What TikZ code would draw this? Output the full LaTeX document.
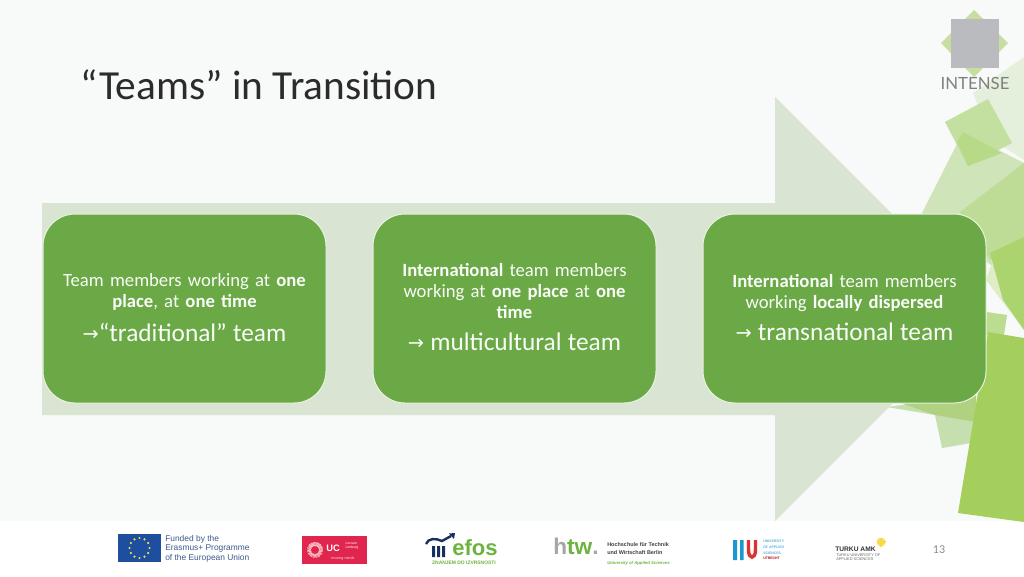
\documentclass[tikz,border=0pt]{standalone}
\usepackage{fontspec}
\setmainfont{Carlito}
\newfontfamily\arrowfont{DejaVu Sans}
\newfontfamily\logofont{Liberation Sans}
\newfontfamily\introfont{Lato}
\definecolor{bgc}{HTML}{F8F9F9}
\definecolor{arrowc}{HTML}{D9E4D2}
\definecolor{boxc}{HTML}{6AA945}
\definecolor{titlec}{HTML}{2B2B2B}
\definecolor{efb}{HTML}{16325C}
\definecolor{efg}{HTML}{6DB33F}
\tikzset{x=0.75pt,y=-0.75pt,
  card/.style={draw=white!85!boxc,line width=0.75pt,fill=boxc,rounded corners=24pt,minimum width=212.25pt,minimum height=141.75pt,inner sep=0pt,text=white!96!boxc,align=center,text width=195pt,font=\fontsize{14}{15.75}\selectfont},
  logotxt/.style={inner sep=0pt,font=\logofont,align=left,anchor=west},
}
\newcommand{\bigline}[2]{\\[8.5pt]{\fontsize{19}{20}\selectfont\raisebox{0.8pt}{\arrowfont\fontsize{14.5}{20}\selectfont →}#2\rule[-#1]{0pt}{1pt}}}
\begin{document}
\begin{tikzpicture}
\useasboundingbox (0,0) rectangle (1024,576);
\fill[bgc] (0,0) rectangle (1024,521);
\fill[white] (0,521) rectangle (1024,576);
% decorative shapes
\fill[color={rgb,255:red,228;green,239;blue,220}] (1024,57) -- (973,93) -- (993,140) -- (1024,160) -- cycle;
\fill[color={rgb,255:red,207;green,228;blue,184}] (963,132) -- (922,213) -- (1024,290) -- (1024,163) -- cycle;
\fill[color={rgb,255:red,222;green,236;blue,200}] (986,280) -- (1024,330) -- (1024,270) -- (1000,240) -- cycle;
\fill[color={rgb,255:red,191;green,220;blue,150}] (1024,163) -- (960,212) -- (990,260) -- (1024,237) -- cycle;
\fill[color={rgb,255:red,172;green,212;blue,110}] (1024,237) -- (990,253) -- (1003,300) -- (1024,330) -- cycle;
\fill[color={rgb,255:red,195;green,224;blue,160}] (988,99) -- (1012,143) -- (968,166) -- (945,122) -- cycle;
\fill[color={rgb,255:red,182;green,218;blue,135}] (963,132) -- (1002,153) -- (968,166) -- (957,142) -- cycle;
\fill[color={rgb,255:red,197;green,223;blue,174}] (887,407) -- (935,415) -- (942,448) -- (971,443) -- (976,395) -- cycle;
\fill[color={rgb,255:red,188;green,220;blue,146}] (987,312) -- (1007,315) -- (1004,335) -- (985,335) -- cycle;
% arrow
\fill[arrowc] (42,203) -- (775,203) -- (775,97) -- (987,309) -- (775,521) -- (775,415) -- (42,415) -- cycle;
\fill[color={rgb,255:red,176;green,209;blue,128}] (935,415) -- (976,422) -- (976,395) -- (895,401) -- cycle;
\fill[color={rgb,255:red,165;green,207;blue,92}] (988,332) -- (1024,338) -- (1024,522) -- (958,513) -- cycle;
% logo
\fill[color={rgb,255:red,200;green,222;blue,160}] (974,10) -- (1008,43) -- (974,77) -- (941,43) -- cycle;
\fill[color={rgb,255:red,186;green,187;blue,190}] (951,19) rectangle (999,68);
\node (intense) at (975,83) [inner sep=0pt,text=black!50,font=\introfont\fontsize{12.6}{13}\selectfont] {INTENSE};
% title
\node (title) at (80,84.5) [anchor=west,inner sep=0pt,text=titlec,font=\fontsize{31}{34}\selectfont] {“Teams” in Transition};
% cards
\node[card] (c1) at (184.5,308.5) {Team members working at \textbf{one}\\\textbf{place}, at \textbf{one time}\bigline{1.5pt}{“traditional” team}};
\node[card] (c2) at (514.5,308.5) {\textbf{International} team members\\working at \textbf{one place} at \textbf{one}\\\textbf{time}\bigline{2.2pt}{ multicultural team}};
\node[card] (c3) at (844.5,308.5) {\textbf{International} team members\\working \textbf{locally dispersed}\bigline{1.5pt}{ transnational team}};
% footer: EU
\fill[color={rgb,255:red,30;green,78;blue,158}] (118,534) rectangle (161,562);
\foreach \a in {0,30,...,330} \fill[color={rgb,255:red,240;green,220;blue,90}] (139.5,548) ++(\a:10) circle (1.2);
\node[logotxt,text={rgb,255:red,60;green,90;blue,140},font=\logofont\fontsize{6.3}{7.1}\selectfont] (eu) at (165,548.5) {Funded by the\\Erasmus+ Programme\\of the European Union};
% UC
\fill[color={rgb,255:red,224;green,37;blue,78}] (302,535.5) rectangle (367,564);
\draw[white!80!red,line width=3pt,dash pattern=on 0.5pt off 0.4pt] (315,550) circle (6);
\fill[color={rgb,255:red,224;green,37;blue,78}] (315,550) circle (2.5);
\node[inner sep=0pt,text=white,font=\logofont\bfseries\fontsize{7}{7}\selectfont] (uc) at (333,548) {UC};
\node[inner sep=0pt,text=white,font=\logofont\fontsize{2.6}{3}\selectfont,align=left] (ucl) at (352,545.5) {Leuven\\Limburg};
\node[inner sep=0pt,text=white!85!red,font=\logofont\fontsize{2.8}{3}\selectfont] (ucm) at (343,558.5) {moving minds};
% efos
\fill[efb] (432,546) rectangle (435,557) (437,546) rectangle (440,557) (442,546) rectangle (445,557);
\draw[efb,line width=1.8pt] (426,544) .. controls (428,538) and (436,538) .. (442,541) -- (451,536);
\fill[efb] (455,533) -- (449,533.5) -- (454,539) -- cycle;
\node[inner sep=0pt,text=efg,font=\logofont\bfseries\fontsize{16.5}{16.5}\selectfont] (efos) at (475,548) {efos};
\node[inner sep=0pt,text=efg,font=\logofont\bfseries\fontsize{3.7}{3.7}\selectfont] (efsub) at (464,562.5) {ZNANJEM DO IZVRSNOSTI};
% htw
\node[inner sep=0pt,anchor=west,font=\logofont\bfseries\fontsize{17}{17}\selectfont] (htw) at (553,546.5) {\textcolor{black!35}{h}\textcolor{efg}{tw}\textcolor{black!35}{.}};
\node[logotxt,text=black!75,font=\logofont\bfseries\fontsize{4.1}{5.3}\selectfont] (htwt) at (607,548.5) {Hochschule für Technik\\und Wirtschaft Berlin};
\node[logotxt,text=efg,font=\logofont\bfseries\itshape\fontsize{3.2}{4}\selectfont] (htwu) at (607,563) {University of Applied Sciences};
% HU
\fill[color={rgb,255:red,30;green,150;blue,210}] (733,540) rectangle (737,560) (740,540) rectangle (743.5,560);
\draw[color={rgb,255:red,220;green,50;blue,50},line width=2.6pt] (748.5,540) -- (748.5,550) .. controls (748.5,559.5) and (755.5,559.5) .. (755.5,550) -- (755.5,540);
\node[logotxt,text={rgb,255:red,90;green,175;blue,225},font=\logofont\bfseries\fontsize{2.6}{4.3}\selectfont] (hut) at (763,550) {UNIVERSITY\\OF APPLIED\\SCIENCES\\\textcolor{red!70!black}{UTRECHT}};
% Turku
\node[logotxt,text=black!80,font=\logofont\bfseries\fontsize{5}{5}\selectfont] (tu) at (835,549) {TURKU AMK};
\node[logotxt,text=black!60,font=\logofont\fontsize{2.9}{3.1}\selectfont] (tus) at (836,557) {TURKU UNIVERSITY OF\\APPLIED SCIENCES};
\foreach \a in {0,30,...,330} \draw[color={rgb,255:red,250;green,215;blue,70},line width=0.9pt] (881,542) -- ++(\a:4.5);
% page
\node[inner sep=0pt,text=black!45,font=\fontsize{9}{10}\selectfont] (page) at (939,549.5) {13};
\end{tikzpicture}
\end{document}
